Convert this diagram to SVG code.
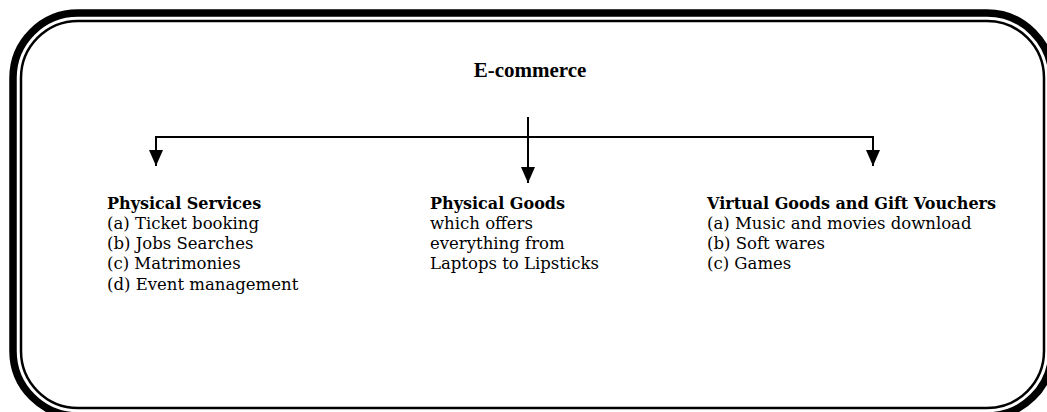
<svg xmlns="http://www.w3.org/2000/svg" width="1047" height="412" viewBox="0 0 1047 412">
<style>
.t{font-family:"DejaVu Serif","Liberation Serif",serif;font-size:16.5px;fill:#000}
.b{font-weight:bold;font-size:16px}
.h{font-family:"Liberation Serif","Times New Roman",serif;font-size:21px;font-weight:bold;fill:#000}
.ln{fill:none;stroke:#000;stroke-width:2}
</style>
<defs>
<marker id="ah" viewBox="0 0 16 14" refX="16" refY="7" markerWidth="16" markerHeight="14" markerUnits="userSpaceOnUse" orient="auto">
<path d="M0,0 L16,7 L0,14 Z" fill="#000"/>
</marker>
</defs>
<g id="frame">
<rect x="13" y="13" width="1039" height="403" rx="65" ry="65" fill="none" stroke="#000" stroke-width="7.5"/>
<rect x="21" y="21" width="1023" height="387" rx="57" ry="57" fill="none" stroke="#000" stroke-width="2.5"/>
</g>
<g id="connectors">
<line class="ln" x1="155" y1="137" x2="874" y2="137"/>
<line class="ln" x1="528" y1="117" x2="528" y2="183" marker-end="url(#ah)"/>
<line class="ln" x1="156" y1="136" x2="156" y2="166" marker-end="url(#ah)"/>
<line class="ln" x1="873" y1="136" x2="873" y2="166" marker-end="url(#ah)"/>
</g>
<g id="root">
<text class="h" x="530" y="77" text-anchor="middle">E-commerce</text>
</g>
<g id="physical-services">
<text class="t b" x="107" y="209">Physical Services</text>
<text class="t" x="107" y="229">(a) Ticket booking</text>
<text class="t" x="107" y="249">(b) Jobs Searches</text>
<text class="t" x="107" y="269">(c) Matrimonies</text>
<text class="t" x="107" y="290">(d) Event management</text>
</g>
<g id="physical-goods">
<text class="t b" x="430" y="209">Physical Goods</text>
<text class="t" x="430" y="229">which offers</text>
<text class="t" x="430" y="249">everything from</text>
<text class="t" x="430" y="269">Laptops to Lipsticks</text>
</g>
<g id="virtual-goods">
<text class="t b" x="707" y="209">Virtual Goods and Gift Vouchers</text>
<text class="t" x="707" y="229">(a) Music and movies download</text>
<text class="t" x="707" y="249">(b) Soft wares</text>
<text class="t" x="707" y="269">(c) Games</text>
</g>
</svg>
